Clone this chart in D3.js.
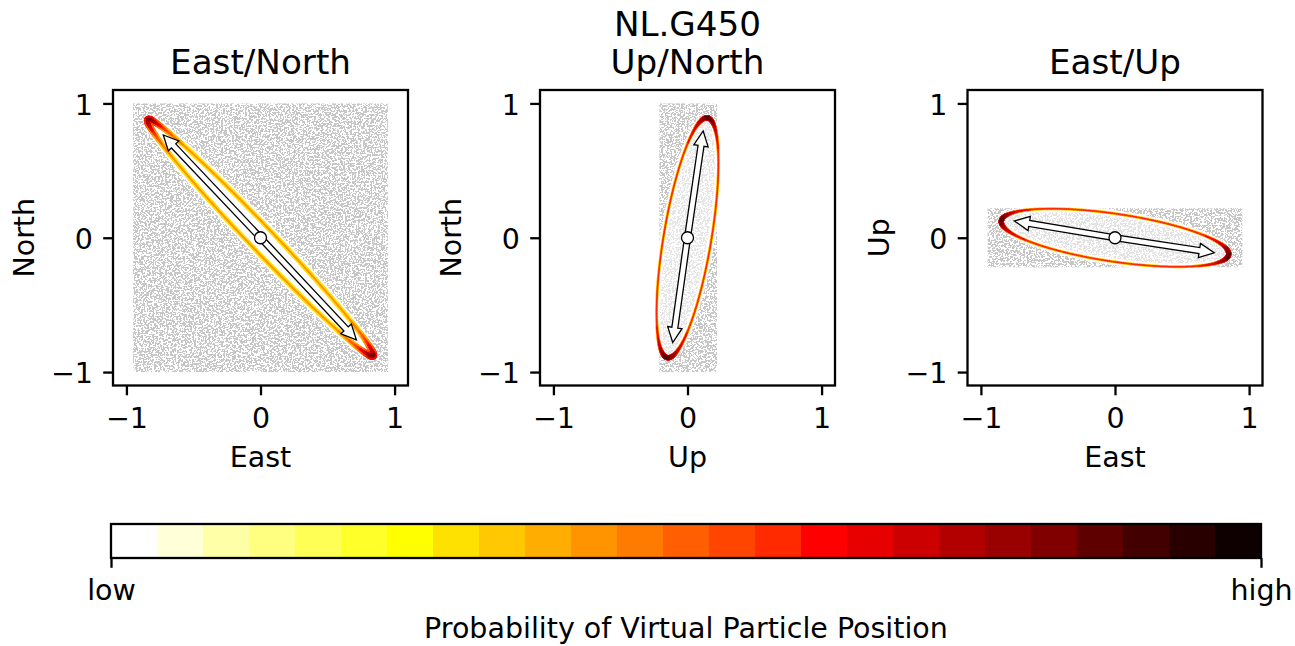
<!DOCTYPE html>
<html>
<head>
<meta charset="utf-8">
<script src="https://cdn.jsdelivr.net/npm/d3@7"></script>
<style>
  html, body { margin: 0; padding: 0; background: #fff; }
  svg { display: block; font-family: "DejaVu Sans", sans-serif; }
</style>
</head>
<body>
<svg id="chart" width="1295" height="646"></svg>
<script>
// ---------------- data ----------------
const panelTitles = ["East/North", "Up/North", "East/Up"];
const supTitle = "NL.G450";
const xLabels = ["East", "Up", "East"];
const yLabels = ["North", "North", "Up"];
const axisTicks = [-1, 0, 1];
const axisDomain = [-1.1, 1.1];

// error ellipse (data units): semi-major, semi-minor, orientation (deg, data space)
const ellipseSemiMajor = [1.213, 0.905, 0.857];
const ellipseSemiMinor = [0.09, 0.178, 0.178];
const ellipseAngleDeg = [-46.3, 80.5, -8.4];

// principal-axis arrows: tips (data units), both drawn from the origin
const arrowTipA = [[-0.725, 0.765], [0.117, 0.795], [-0.75, 0.125]];
const arrowTipB = [[0.715, -0.76], [-0.11, -0.78], [0.74, -0.112]];

// extent of the low-probability particle cloud (data units)
const cloudX = [[-0.95, 0.95], [-0.21, 0.22], [-0.95, 0.95]];
const cloudY = [[-1.0, 1.0], [-1.0, 1.0], [-0.22, 0.22]];

// colour bar
const cbColors = ["#ffffff", "#ffffd8", "#ffffa8", "#ffff80", "#ffff55", "#ffff2a", "#ffff00",
  "#ffe100", "#ffc800", "#ffad00", "#ff9400", "#ff7b00", "#ff5f00", "#ff4500", "#ff2a00",
  "#ff0000", "#e60000", "#cc0000", "#b20000", "#990000", "#800000", "#5e0000", "#420000",
  "#290000", "#0f0000"];
const cbTickLabels = ["low", "high"];
const cbTitle = "Probability of Virtual Particle Position";

// ---------------- layout / style ----------------
const panelLeft = [113, 540, 967.5];
const panelTop = 90, panelSize = 295, panelH = 295.5;
const tickLen = 9.8, tickPad = 9.8;
const fsTick = 28.5, fsLabel = 28.5, fsTitle = 34.2;
// ellipse stroke colour levels [outer, inner] at sides and at tips, widths
const ellStyle = [
  { side: [7, 10], tip: [15, 20], wOut: 4.8, wIn: 1.7, tipExtra: 3.0, clear: 1.0 },
  { side: [8, 14], tip: [17, 21], wOut: 2.8, wIn: 1.5, tipExtra: 2.6, clear: 0.55 },
  { side: [8, 14], tip: [17, 21], wOut: 2.8, wIn: 1.5, tipExtra: 2.6, clear: 0.5 }
];

const svg = d3.select("#chart");
const defs = svg.append("defs");

const filt = defs.append("filter").attr("id", "speckle")
  .attr("x", 0).attr("y", 0).attr("width", 1).attr("height", 1)
  .attr("color-interpolation-filters", "sRGB");
filt.append("feTurbulence").attr("type", "fractalNoise").attr("baseFrequency", "0.55")
  .attr("numOctaves", 2).attr("seed", 11).attr("result", "n");
filt.append("feColorMatrix").attr("in", "n").attr("type", "matrix")
  .attr("values", "0 0 0 0 0.78  0 0 0 0 0.78  0 0 0 0 0.78  1 0 0 0 0.0").attr("result", "m");
const ct = filt.append("feComponentTransfer").attr("in", "m").attr("result", "d");
ct.append("feFuncA").attr("type", "discrete").attr("tableValues", "0 1");
filt.append("feComposite").attr("in", "d").attr("in2", "SourceGraphic").attr("operator", "in");

panelTitles.forEach((title, i) => {
  const x = d3.scaleLinear().domain(axisDomain).range([panelLeft[i], panelLeft[i] + panelSize]);
  const y = d3.scaleLinear().domain(axisDomain).range([panelTop + panelH, panelTop]);
  const g = svg.append("g");

  // particle cloud
  g.append("rect")
    .attr("x", x(cloudX[i][0])).attr("y", y(cloudY[i][1]))
    .attr("width", x(cloudX[i][1]) - x(cloudX[i][0]))
    .attr("height", y(cloudY[i][0]) - y(cloudY[i][1]))
    .attr("fill", "#fff").attr("filter", "url(#speckle)");

  // ellipse
  const a = ellipseSemiMajor[i], b = ellipseSemiMinor[i], th = ellipseAngleDeg[i] * Math.PI / 180;
  const N = 360;
  const pts = d3.range(N + 1).map(k => {
    const t = 2 * Math.PI * k / N;
    const dx = a * Math.cos(t) * Math.cos(th) - b * Math.sin(t) * Math.sin(th);
    const dy = a * Math.cos(t) * Math.sin(th) + b * Math.sin(t) * Math.cos(th);
    return { px: x(dx), py: y(dy), t };
  });
  const st = ellStyle[i];
  // cleared interior and thin white halo
  g.append("path").attr("d", d3.line().x(d => d.px).y(d => d.py)(pts) + "Z")
    .attr("fill", "#fff").attr("fill-opacity", st.clear)
    .attr("stroke", "#fff").attr("stroke-width", st.wOut + 4).attr("stroke-opacity", 0.85);
  [{ idx: 0, w: st.wOut }, { idx: 1, w: st.wIn }].forEach(L => {
    const segs = d3.range(N).map(k => {
      const tm = (pts[k].t + pts[k + 1].t) / 2;
      const f = Math.pow(Math.abs(Math.cos(tm)), 10);
      const lev = Math.round(st.side[L.idx] + (st.tip[L.idx] - st.side[L.idx]) * f);
      return { p0: pts[k], p1: pts[k + 1], c: cbColors[lev], w: L.w + st.tipExtra * f * (L.idx === 0 ? 1 : 0.8) };
    });
    g.append("g").selectAll("line").data(segs).join("line")
      .attr("x1", d => d.p0.px).attr("y1", d => d.p0.py)
      .attr("x2", d => d.p1.px).attr("y2", d => d.p1.py)
      .attr("stroke", d => d.c).attr("stroke-width", d => d.w)
      .attr("stroke-linecap", "round");
  });

  // arrows
  const cx = x(0), cy = y(0);
  [arrowTipA[i], arrowTipB[i]].forEach(tip => {
    const tx = x(tip[0]), ty = y(tip[1]);
    const L = Math.hypot(tx - cx, ty - cy);
    const ux = (tx - cx) / L, uy = (ty - cy) / L;
    const nx = -uy, ny = ux;
    const hw = 3.0, hh = 7.2, hl = 15;
    const bx = tx - ux * hl, by = ty - uy * hl;
    const poly = [
      [cx + nx * hw, cy + ny * hw], [bx + nx * hw, by + ny * hw], [bx + nx * hh, by + ny * hh],
      [tx, ty], [bx - nx * hh, by - ny * hh], [bx - nx * hw, by - ny * hw], [cx - nx * hw, cy - ny * hw]
    ];
    g.append("path").attr("d", d3.line()(poly) + "Z")
      .attr("fill", "#fff").attr("stroke", "#000").attr("stroke-width", 1.3)
      .attr("stroke-linejoin", "miter");
  });
  g.append("circle").attr("cx", cx).attr("cy", cy).attr("r", 6)
    .attr("fill", "#fff").attr("stroke", "#000").attr("stroke-width", 1.3);

  // axes frame
  g.append("rect").attr("x", panelLeft[i]).attr("y", panelTop)
    .attr("width", panelSize).attr("height", panelH)
    .attr("fill", "none").attr("stroke", "#000").attr("stroke-width", 2.3);

  const fmt = d3.format("d");
  const xa = g.append("g").attr("transform", `translate(0,${panelTop + panelH})`)
    .call(d3.axisBottom(x).tickValues(axisTicks).tickSize(tickLen).tickPadding(tickPad).tickFormat(fmt));
  const ya = g.append("g").attr("transform", `translate(${panelLeft[i]},0)`)
    .call(d3.axisLeft(y).tickValues(axisTicks).tickSize(tickLen).tickPadding(tickPad).tickFormat(fmt));
  [xa, ya].forEach(ax => {
    ax.select(".domain").remove();
    ax.selectAll(".tick line").attr("stroke", "#000").attr("stroke-width", 2.3);
    ax.selectAll(".tick text").attr("fill", "#000").attr("font-size", fsTick)
      .attr("font-family", "DejaVu Sans");
  });
  xa.selectAll(".tick text").attr("dy", null).attr("y", 428 - (panelTop + panelH));
  ya.selectAll(".tick text").attr("dy", null).attr("y", 10.6).attr("x", -20);

  // labels
  g.append("text").attr("x", x(0)).attr("y", 467).attr("text-anchor", "middle")
    .attr("font-size", fsLabel).text(xLabels[i]);
  g.append("text").attr("transform", `translate(${panelLeft[i] - 79},${y(0)}) rotate(-90)`)
    .attr("text-anchor", "middle").attr("font-size", fsLabel).text(yLabels[i]);
  g.append("text").attr("x", x(0)).attr("y", 74).attr("text-anchor", "middle")
    .attr("font-size", fsTitle).text(title);
  if (i === 1) {
    g.append("text").attr("x", x(0)).attr("y", 36).attr("text-anchor", "middle")
      .attr("font-size", fsTitle).text(supTitle);
  }
});

// ---------------- colour bar ----------------
const cbLeft = 111, cbRight = 1261, cbTop = 524, cbBottom = 558;
const band = d3.scaleBand().domain(d3.range(cbColors.length)).range([cbLeft, cbRight]);
const cb = svg.append("g");
cb.selectAll("rect.band").data(cbColors).join("rect").attr("class", "band")
  .attr("x", (d, k) => band(k)).attr("y", cbTop)
  .attr("width", band.bandwidth() + 0.5).attr("height", cbBottom - cbTop)
  .attr("fill", d => d);
cb.append("rect").attr("x", cbLeft).attr("y", cbTop).attr("width", cbRight - cbLeft)
  .attr("height", cbBottom - cbTop).attr("fill", "none").attr("stroke", "#000").attr("stroke-width", 2.3);
const cbScale = d3.scaleLinear().domain([0, 1]).range([cbLeft, cbRight]);
const cba = cb.append("g").attr("transform", `translate(0,${cbBottom})`)
  .call(d3.axisBottom(cbScale).tickValues([0, 1]).tickSize(tickLen).tickPadding(tickPad)
    .tickFormat((d, k) => cbTickLabels[k]));
cba.select(".domain").remove();
cba.selectAll(".tick line").attr("stroke", "#000").attr("stroke-width", 2.3);
cba.selectAll(".tick text").attr("fill", "#000").attr("font-size", fsLabel)
  .attr("font-family", "DejaVu Sans").attr("dy", null).attr("y", 600 - cbBottom);
cb.append("text").attr("x", (cbLeft + cbRight) / 2).attr("y", 638).attr("text-anchor", "middle")
  .attr("font-size", fsLabel).text(cbTitle);
</script>
</body>
</html>
